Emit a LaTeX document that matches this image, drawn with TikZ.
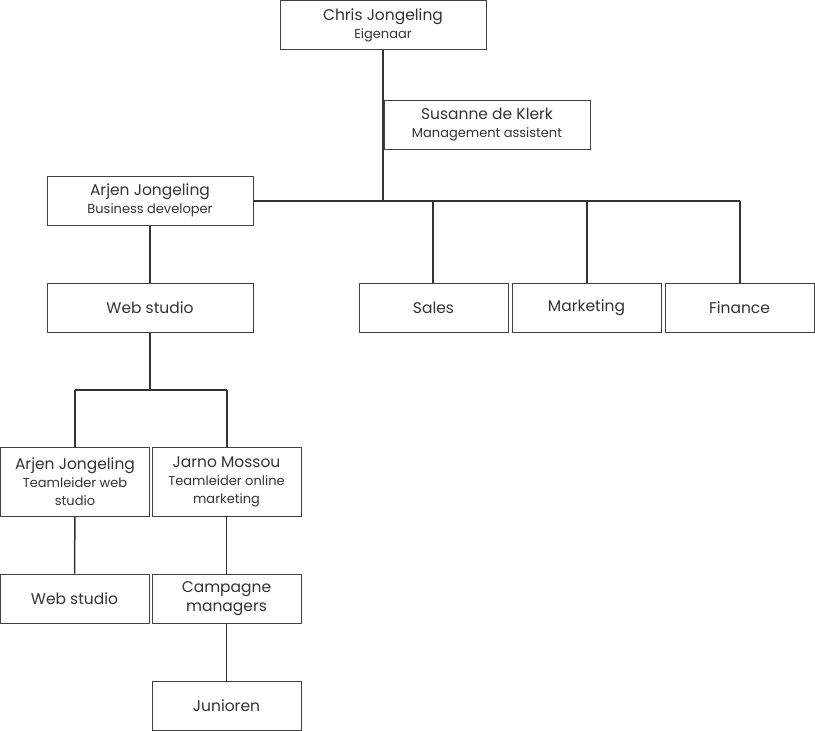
\documentclass[tikz,border=0pt]{standalone}
\usepackage{fontspec}
\setmainfont{Poppins}
\usetikzlibrary{positioning}
\newcommand{\subline}{\fontsize{13}{16}\selectfont}

\begin{document}
\begin{tikzpicture}[x=1pt,y=-1pt,
    box/.style={draw=black!75,line width=0.8pt,fill=white,align=center,
      inner sep=1pt,font=\fontsize{15.5}{18}\selectfont,text=black!80},
    wide/.style={box,minimum width=206pt,minimum height=49pt},
    small/.style={box,minimum width=149pt,minimum height=49pt},
    tall/.style={box,minimum width=149pt,minimum height=69pt},
    link/.style={draw=black!80,line width=1.5pt}]
  \useasboundingbox (0,0) rectangle (815,731);

  \draw[link] (383,49) -- (383,201) coordinate (hub);
  \draw[link] (253,201) -- (740,201);
  \draw[link] (433,201) -- (433,283);
  \draw[link] (587,201) -- (587,283);
  \draw[link] (740,201) -- (740,283);
  \draw[link] (150,225) -- (150,283);
  \draw[link] (150,332) -- (150,390) coordinate (split);
  \draw[link] (75,390) -- (227,390);
  \draw[link] (75,390) -- (75,447);
  \draw[link] (227,390) -- (227,447);

  \node[wide] (chris) at (383,25) {Chris Jongeling\\{\subline Eigenaar}};
  \node[wide] (susanne) at (487,124.5) {Susanne de Klerk\\{\subline Management assistent}};
  \node[wide] (arjen) at (150,200.5) {Arjen Jongeling\\{\subline Business developer}};
  \node[wide] (web) at (150,307.5) {Web studio};
  \node[small] (sales) at (433.5,307.5) {Sales};
  \node[small] (marketing) at (586.5,307.5) {Marketing};
  \node[small] (finance) at (739.5,307.5) {Finance};
  \node[tall] (arjentl) at (75,481.5) {Arjen Jongeling\\{\subline Teamleider web}\\{\subline studio}};
  \node[tall] (jarno) at (226.5,481.5) {Jarno Mossou\\{\subline Teamleider online}\\{\subline marketing}};
  \node[small] (webteam) at (74.5,598.5) {Web studio};
  \node[small,font=\fontsize{15.5}{19}\selectfont] (campagne) at (226.5,598.5) {Campagne\\managers};
  \node[small] (junioren) at (226.5,705.5) {Junioren};

  \draw[link] (arjentl) -- (webteam);
  \draw[link] (jarno) -- (campagne);
  \draw[link] (campagne) -- (junioren);
\end{tikzpicture}
\end{document}
